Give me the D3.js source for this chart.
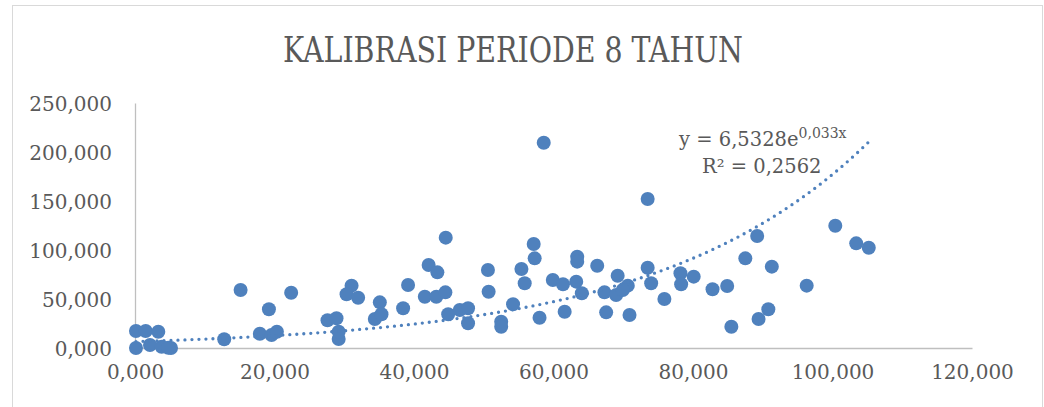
<!DOCTYPE html>
<html>
<head>
<meta charset="utf-8">
<script src="https://cdn.jsdelivr.net/npm/d3@7"></script>
<style>
  body { margin: 0; background: #fff; }
  svg { display: block; }
  .axis path { stroke: #bfbfbf; stroke-width: 1.3; }
  .axis text { fill: #595959; font-family: "DejaVu Serif", serif; font-size: 20px; }
</style>
</head>
<body>
<svg id="chart" width="1044" height="407"></svg>
<script>
var xValues = [0.14, 1.53, 3.34, 0.14, 2.15, 3.82, 5.16, 4.77,
  12.79, 15.14, 19.2, 22.39, 17.9, 19.58, 20.34,
  27.6, 28.89, 29.2, 29.2, 31.05, 30.33, 31.99, 35.1, 34.38, 35.34,
  38.44, 39.15, 41.55, 43.2, 44.5, 42.1, 43.35, 44.55, 44.9, 46.56, 47.75, 47.75,
  50.6, 50.7, 52.5, 52.5, 54.2, 57.16, 57.3, 55.4, 55.87, 58.0, 59.9, 61.36, 61.6,
  63.4, 63.4, 63.26, 64.06, 66.27, 67.3, 67.55, 69.2, 68.98, 70.65, 70.9, 69.93,
  73.5, 74.0, 75.9, 78.2, 78.3, 80.1, 82.8, 84.9, 85.5, 87.5, 89.2, 89.4, 90.8, 91.3,
  96.3, 100.4, 103.4, 105.2, 58.6, 73.5];
var yValues = [17.3, 17.3, 16.6, 0, 3.1, 1.3, 0, 0.3,
  8.9, 59.2, 39.5, 56.4, 14.6, 13.3, 16.6,
  28.3, 30.3, 9.2, 16.6, 63.6, 54.8, 51.3, 46.6, 29.6, 34.4,
  40.5, 64.3, 52.3, 52.3, 56.8, 84.7, 77.2, 112.6, 34.4, 38.8, 40.5, 25.2,
  79.6, 57.4, 26.8, 21.7, 44.6, 106.1, 91.5, 80.6, 66.0, 30.9, 69.4, 65.0, 37.0,
  93.2, 88.1, 67.7, 55.8, 84.0, 56.8, 36.4, 73.8, 54.1, 63.6, 33.7, 59.2,
  81.9, 66.0, 50.0, 76.2, 65.0, 72.8, 59.9, 63.3, 21.7, 91.5, 114.3, 29.6, 39.5, 83.0,
  63.6, 124.8, 106.8, 102.3, 209.5, 152.0];
var xTicks = [0, 20, 40, 60, 80, 100, 120];
var yTicks = [0, 50, 100, 150, 200, 250];
// exponential trendline from the chart label
var trendA = 6.5328, trendB = 0.033;
var titleText = "KALIBRASI PERIODE 8 TAHUN";

var svg = d3.select("#chart"),
    MARGINS = { top: 103, right: 72, bottom: 59, left: 135 },
    WIDTH = 1044,
    HEIGHT = 407;

var xScale = d3.scaleLinear().domain([0, 120]).range([MARGINS.left, WIDTH - MARGINS.right]);
var yScale = d3.scaleLinear().domain([0, 250]).range([HEIGHT - MARGINS.bottom, MARGINS.top]);

var fmt = d3.formatLocale({ decimal: ",", thousands: ".", grouping: [3], currency: ["", ""] }).format(".3f");

// chart border
svg.append("rect")
  .attr("x", 12.5).attr("y", 5.5)
  .attr("width", 1030).attr("height", 420)
  .attr("fill", "none").attr("stroke", "#d9d9d9").attr("stroke-width", 1);

svg.append("text")
  .attr("x", 513).attr("y", 62)
  .attr("text-anchor", "middle")
  .attr("font-family", "'DejaVu Serif Condensed', 'DejaVu Serif', serif")
  .attr("font-size", 36)
  .attr("textLength", 460)
  .attr("lengthAdjust", "spacingAndGlyphs")
  .attr("fill", "#595959")
  .text(titleText);

var xAxis = d3.axisBottom(xScale).tickValues(xTicks).tickFormat(fmt).tickSize(0).tickPadding(24);
var yAxis = d3.axisLeft(yScale).tickValues(yTicks).tickFormat(fmt).tickSize(0).tickPadding(23);

svg.append("g")
  .attr("class", "axis")
  .attr("transform", "translate(0," + yScale(0) + ")")
  .call(xAxis);

svg.append("g")
  .attr("class", "axis")
  .attr("transform", "translate(" + xScale(0) + ",0)")
  .call(yAxis);

svg.selectAll(".axis text").attr("dy", null).attr("dominant-baseline", "central");

var points = xValues.map(function(x, i) { return { x: x, y: yValues[i] }; });

svg.append("g")
  .selectAll("circle")
  .data(points)
  .enter().append("circle")
  .attr("cx", function(d) { return xScale(d.x); })
  .attr("cy", function(d) { return yScale(d.y); })
  .attr("r", 7)
  .attr("fill", "#4f81bd");

var xMin = d3.min(xValues), xMax = d3.max(xValues);
var trend = d3.range(0, 201).map(function(i) {
  var x = xMin + (xMax - xMin) * i / 200;
  return { x: x, y: trendA * Math.exp(trendB * x) };
});

var trendGen = d3.line()
  .x(function(d) { return xScale(d.x); })
  .y(function(d) { return yScale(d.y); });

svg.append("path")
  .attr("d", trendGen(trend))
  .attr("fill", "none")
  .attr("stroke", "#4f81bd")
  .attr("stroke-width", 3.3)
  .attr("stroke-linecap", "round")
  .attr("stroke-dasharray", "0,7");

// equation label
var eq = svg.append("text")
  .attr("x", 679).attr("y", 146)
  .attr("font-family", "'DejaVu Serif', serif")
  .attr("font-size", 19.5)
  .attr("fill", "#595959");
eq.append("tspan").text("y = 6,5328e");
eq.append("tspan").attr("font-size", 14).attr("dy", -8).text("0,033x");

svg.append("text")
  .attr("x", 702).attr("y", 173)
  .attr("font-family", "'DejaVu Serif', serif")
  .attr("font-size", 19.5)
  .attr("fill", "#595959")
  .text("R² = 0,2562");
</script>
</body>
</html>
